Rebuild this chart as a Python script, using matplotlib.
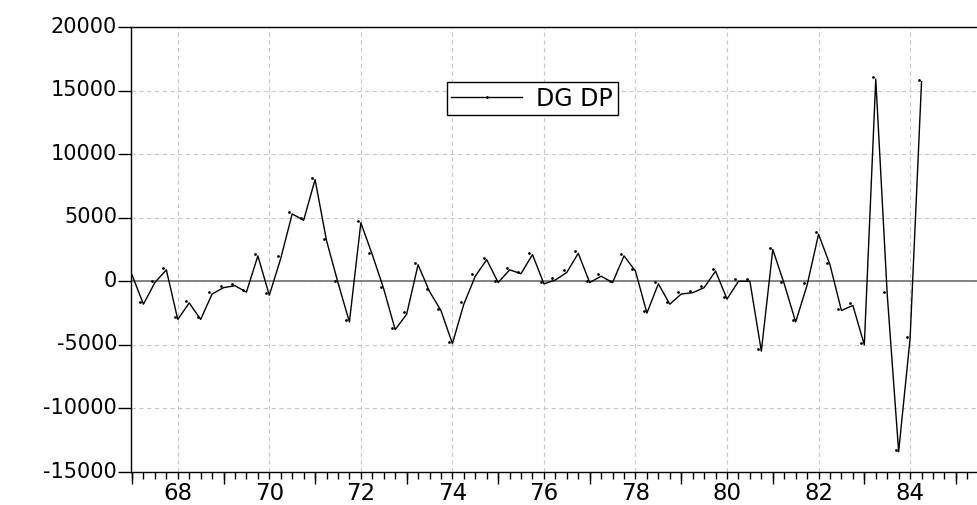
import numpy as np
import matplotlib
matplotlib.use('Agg')
import matplotlib.pyplot as plt
from matplotlib.lines import Line2D
from matplotlib.transforms import ScaledTranslation, offset_copy

# DGDP, quarterly, 1967Q1 - 1984Q2
start_year = 1967
dgdp = [500, -1800, -100, 900,
        -3000, -1700, -3000, -1000,
        -500, -350, -850, 2000,
        -1100, 1800, 5300, 4800,
        8000, 3200, -100, -3200,
        4600, 2100, -600, -3800,
        -2600, 1300, -800, -2300,
        -4900, -1800, 400, 1700,
        -100, 900, 600, 2100,
        -200, 100, 700, 2200,
        -100, 400, -100, 2000,
        800, -2500, -200, -1800,
        -1000, -900, -500, 800,
        -1400, 0, 0, -5500,
        2500, -200, -3200, -300,
        3700, 1300, -2300, -1900,
        -5000, 15900, -1000, -13400,
        -4500, 15700]
year_ticks = [1968, 1970, 1972, 1974, 1976, 1978, 1980, 1982, 1984]
year_labels = ['68', '70', '72', '74', '76', '78', '80', '82', '84']
long_ticks = [1967, 1969, 1971, 1973, 1975, 1977, 1979, 1981, 1983, 1985]
y_ticks = [-15000, -10000, -5000, 0, 5000, 10000, 15000, 20000]
y_labels = ['-15000', '-10000', '-5000', '0', '5000', '10000', '15000', '20000']

t = start_year + np.arange(len(dgdp)) / 4.0

plt.rcParams['font.family'] = ['DejaVu Sans']

fig = plt.figure(figsize=(9.78, 5.06), dpi=100)
W, H = 978, 506
ax = fig.add_axes([131 / W, 33 / H, (1000 - 131) / W, 445 / H])

px_year = 45.77
ax.set_xlim(start_year - 1 / px_year, start_year - 1 / px_year + 869 / px_year)
ax.set_ylim(-15000, 20000)

ax.grid(True, which='major', color='#c8c8c8', linestyle=(0, (4, 3)), lw=0.8)
ax.axhline(0, color='#7a7a7a', lw=1.3, zorder=2)

ax.plot(t, dgdp, color='black', lw=1.0, zorder=3, label='DG DP')
ax.plot(t, dgdp, ls='none', marker='o', ms=2.0, mew=0, color='black', zorder=4,
        transform=offset_copy(ax.transData, fig=fig, x=-3, y=2, units='dots'))

# ticks
ax.set_xticks(year_ticks, year_labels)
ax.set_xticks(np.arange(1967, 1986, 0.25), minor=True)
ax.tick_params(axis='x', which='both', direction='out', length=5, width=1, pad=1.5,
               labelsize=16.5)
sec = ax.secondary_xaxis('bottom')
sec.set_xticks(long_ticks, [''] * len(long_ticks))
sec.tick_params(direction='out', length=8.6, width=1)
sec.spines['bottom'].set_visible(False)

ax.set_yticks(y_ticks, y_labels)
ax.tick_params(axis='y', direction='out', length=9.4, width=1, pad=0.5, labelsize=15)
for lab in ax.get_yticklabels():
    lab.set_transform(lab.get_transform() + ScaledTranslation(0, 3.5 / 100, fig.dpi_scale_trans))

for s in ['left', 'bottom', 'top', 'right']:
    ax.spines[s].set_linewidth(1.0)

handle = Line2D([], [], color='black', lw=1.0, marker='o', ms=2.0, mew=0)
leg = ax.legend([handle], ['DG DP'], loc='upper left',
                bbox_to_anchor=(446.7 / W, 1 - 82.7 / H), bbox_transform=fig.transFigure,
                borderaxespad=0, borderpad=0.2, handlelength=3.0, handletextpad=0.6,
                numpoints=1, fontsize=17, fancybox=False, framealpha=1, edgecolor='black')
leg.get_frame().set_linewidth(1.0)

fig.savefig('out.png', dpi=100)
